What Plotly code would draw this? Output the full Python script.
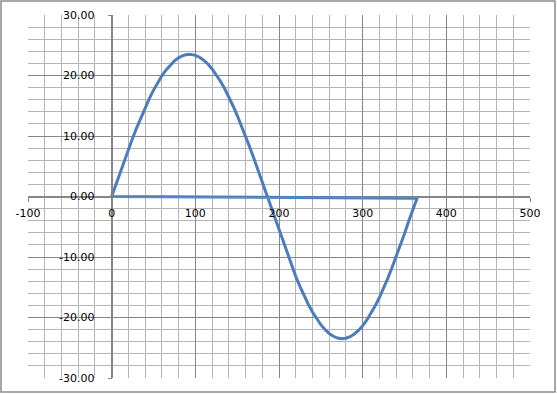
import plotly.graph_objects as go

# Data (one closed series)
x_vals = [0, 5, 10, 15, 20, 25, 30, 35, 40, 45, 50, 55, 60, 65, 70, 75, 80, 85, 90, 95,
          100, 105, 110, 115, 120, 125, 130, 135, 140, 145, 150, 155, 160, 165, 170, 175, 180, 186,
          190, 195, 200, 205, 210, 215, 220, 225, 230, 235, 240, 245, 250, 255, 260, 265, 270, 275,
          280, 285, 290, 295, 300, 305, 310, 315, 320, 325, 330, 335, 340, 345, 350, 355, 360, 365, 0]
y_vals = [0.00, 1.98, 3.95, 5.89, 7.79, 9.63, 11.40, 13.10, 14.69, 16.19, 17.57, 18.82, 19.95, 20.92,
          21.75, 22.41, 22.93, 23.29, 23.47, 23.49,
          23.33, 23.02, 22.53, 21.90, 21.09, 20.15, 19.05, 17.84, 16.49, 15.00, 13.42, 11.75, 9.99, 8.16,
          6.29, 4.34, 2.38, 0.00,
          -1.65, -3.70, -5.71, -7.69, -9.61, -11.45, -13.20, -14.85, -16.40, -17.81, -19.09, -20.21,
          -21.19, -21.99, -22.64, -23.10, -23.39, -23.50,
          -23.43, -23.17, -22.75, -22.14, -21.37, -20.41, -19.32, -18.08, -16.70, -15.18, -13.54, -11.79,
          -9.98, -8.08, -6.14, -4.10, -2.06, -0.30, 0.00]

x_ticks = [-100, 0, 100, 200, 300, 400, 500]
x_ticktext = ["-100", "0", "100", "200", "300", "400", "500"]
y_ticks = [-30, -20, -10, 0, 10, 20, 30]
y_ticktext = ["-30.00", "-20.00", "-10.00", "0.00", "10.00", "20.00", "30.00"]

W, H = 557, 394
ML, MR, MT, MB = 28, 27, 15, 16
pw, ph = W - ML - MR, H - MT - MB

fig = go.Figure()
fig.add_trace(go.Scatter(x=x_vals, y=y_vals, mode="lines",
                         line=dict(color="#4A7EBB", width=3), showlegend=False,
                         hoverinfo="skip"))

font = dict(family="DejaVu Sans", size=11, color="#000000")
major = "#868686"
minor = "#B4B4B4"

xmin, xmax = -100, 500
ymin, ymax = -30, 30

fig.update_layout(
    width=W, height=H,
    margin=dict(l=ML, r=MR, t=MT, b=MB, pad=0, autoexpand=False),
    paper_bgcolor="white", plot_bgcolor="white",
    xaxis=dict(range=[xmin, xmax], tickmode="array", tickvals=x_ticks, ticktext=x_ticktext,
               showgrid=True, gridcolor=major, gridwidth=1,
               minor=dict(dtick=20, tick0=0, showgrid=True, gridcolor=minor, gridwidth=1),
               zeroline=False, showline=True, linecolor=major, linewidth=1,
               ticks="outside", ticklen=4, tickcolor=major, automargin=False,
               ticklabelstandoff=2,
               anchor="free", position=(0 - ymin) / (ymax - ymin),
               tickfont=font, fixedrange=True),
    yaxis=dict(range=[ymin, ymax], tickmode="array", tickvals=y_ticks, ticktext=y_ticktext,
               showgrid=True, gridcolor=major, gridwidth=1,
               minor=dict(dtick=2, tick0=0, showgrid=True, gridcolor=minor, gridwidth=1),
               zeroline=False, showline=True, linecolor=major, linewidth=1,
               ticks="outside", ticklen=4, tickcolor=major, automargin=False,
               ticklabelstandoff=11,
               anchor="free", position=(0 - xmin) / (xmax - xmin),
               tickfont=font, fixedrange=True),
)

# chart area border
fig.add_shape(type="rect", xref="paper", yref="paper",
              x0=(1 - ML) / pw, x1=(555 - ML) / pw,
              y0=(H - MB - 392) / ph, y1=(H - MB - 1) / ph,
              line=dict(color="#8C8C8C", width=1.5), fillcolor="rgba(0,0,0,0)", layer="below")

fig.write_html("out.html")
